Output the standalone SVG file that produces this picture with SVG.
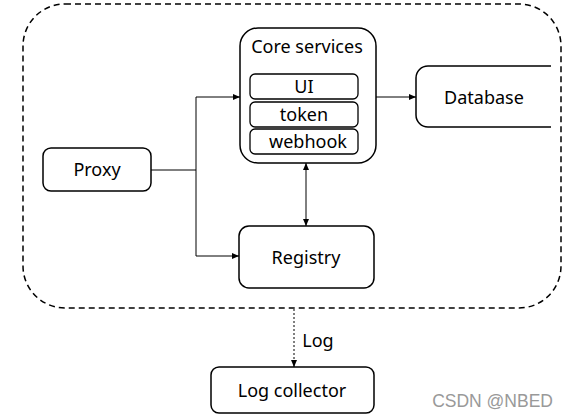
<svg xmlns="http://www.w3.org/2000/svg" width="569" height="418" viewBox="0 0 569 418">
<defs>
<style>
.box{fill:#fff;stroke:#000;stroke-width:1.5}
.sub{fill:#fff;stroke:#000;stroke-width:1.3}
.t{font-family:"Noto Sans","Open Sans",sans-serif;font-size:18px;fill:#000;text-anchor:middle;dominant-baseline:central}
.ln{fill:none;stroke:#000;stroke-width:1}
</style>
<marker id="ah" markerWidth="8" markerHeight="8" refX="7" refY="4" orient="auto-start-reverse" markerUnits="userSpaceOnUse"><path d="M0,1 L7,4 L0,7 z" fill="#000"/></marker>
</defs>
<rect width="569" height="418" fill="#fff"/>
<g id="boundary"><rect x="23" y="4" width="538" height="304" rx="42" fill="none" stroke="#000" stroke-width="1.5" stroke-dasharray="6,4"/></g>
<g id="database"><path class="box" d="M551,66 H428 A12,12 0 0 0 416,78 V115 A12,12 0 0 0 428,127 H551"/><text class="t" x="484" y="97">Database</text></g>
<g id="core"><rect class="box" x="240" y="28" width="136" height="135" rx="18"/><text class="t" x="307" y="46">Core services</text>
<g id="ui"><rect class="sub" x="250" y="74" width="108" height="25" rx="5"/><text class="t" x="304" y="86">UI</text></g>
<g id="token"><rect class="sub" x="250" y="102" width="108" height="25" rx="5"/><text class="t" x="304" y="114">token</text></g>
<g id="webhook"><rect class="sub" x="250" y="129" width="108" height="25" rx="5"/><text class="t" x="308" y="141">webhook</text></g>
</g>
<g id="proxy"><rect class="box" x="43" y="148" width="108" height="43" rx="8"/><text class="t" x="97" y="169">Proxy</text></g>
<g id="registry"><rect class="box" x="239" y="226" width="135" height="62" rx="10"/><text class="t" x="306" y="257">Registry</text></g>
<g id="logcollector"><rect class="box" x="211" y="367" width="163" height="46" rx="8"/><text class="t" x="292" y="390">Log collector</text></g>
<g id="connectors">
<path class="ln" d="M151,170 H196"/>
<path class="ln" d="M196,97 V256"/>
<path class="ln" d="M196,97 H240" marker-end="url(#ah)"/>
<path class="ln" d="M196,256 H239" marker-end="url(#ah)"/>
<path class="ln" d="M376,97 H416" marker-end="url(#ah)"/>
<path class="ln" d="M306,163 V226" marker-start="url(#ah)" marker-end="url(#ah)"/>
<path class="ln" d="M294,309 V367" stroke-dasharray="2,2" marker-end="url(#ah)"/>
<text class="t" x="318" y="340">Log</text>
</g>
<text x="553" y="407" font-family="Liberation Sans,Arial,sans-serif" font-size="17.5" fill="#999" text-anchor="end">CSDN @NBED</text>
</svg>
